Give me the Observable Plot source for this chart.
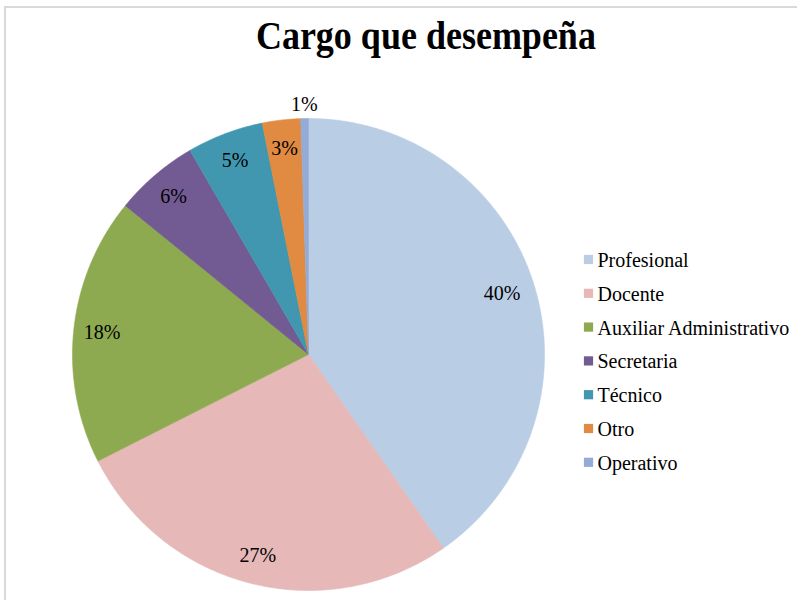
<!DOCTYPE html>
<html><head><meta charset="utf-8">
<script src="https://cdn.jsdelivr.net/npm/d3@7"></script>
<script src="https://cdn.jsdelivr.net/npm/@observablehq/plot@0.6"></script>
<style>
body{margin:0;background:#fff;}
#wrap{position:relative;width:797px;height:600px;overflow:hidden;}
#frame{position:absolute;left:4px;top:6px;width:840px;height:640px;border:2px solid #d9d9d9;}
#title{position:absolute;left:0;top:16px;width:852px;text-align:center;font:bold 40px "Liberation Serif",serif;line-height:40px;color:#000;}
#title span{display:inline-block;transform:scaleX(0.9);transform-origin:center;}
#chart{position:absolute;left:0;top:60px;}
#chart svg text{font-family:"Liberation Serif",serif !important;}
</style></head>
<body>
<div id="wrap">
  <div id="frame"></div>
  <div id="title"><span>Cargo que desempeña</span></div>
  <div id="chart"></div>
</div>
<script>
const categories = ["Profesional","Docente","Auxiliar Administrativo","Secretaria","Técnico","Otro","Operativo"];
const counts = [77, 52, 35, 11, 10, 5, 1];
const colors = ["#b9cde5","#e6b9b8","#8eaa50","#725a93","#4197b0","#e08a42","#94abd5"];

const cx = 308, cy = 354, R = 236;
const total = d3.sum(counts);
const pie = d3.pie().sort(null).value(d => d.count)(categories.map((c, i) => ({cat: c, count: counts[i]})));

const pt = (a, r) => [cx + r * Math.sin(a), cy - r * Math.cos(a)];
const poly = [];
for (const s of pie) {
  const c = s.data.cat;
  poly.push({cat: c, x: cx, y: cy});
  const n = Math.max(2, Math.ceil((s.endAngle - s.startAngle) / 0.005));
  for (let k = 0; k <= n; k++) {
    const a = s.startAngle + (s.endAngle - s.startAngle) * k / n;
    const [x, y] = pt(a, R);
    poly.push({cat: c, x, y});
  }
  poly.push({cat: c, x: cx, y: cy});
}
const labels = pie.map(s => {
  const frac = s.data.count / total;
  const mid = (s.startAngle + s.endAngle) / 2;
  const [x, y] = pt(mid, frac < 0.02 ? R * 1.06 : (frac > 0.35 ? R * 0.86 : R * 0.88));
  return {x, y, text: Math.round(frac * 100) + "%"};
});
const legend = categories.map((c, i) => ({cat: c, y: 259 + 33.8 * i}));

const serif = "'Liberation Serif', serif";
const chart = Plot.plot({
  width: 797, height: 540, margin: 0,
  style: {background: "none", overflow: "visible", fontFamily: serif},
  x: {domain: [0, 797], range: [0, 797], axis: null},
  y: {domain: [60, 600], range: [0, 540], axis: null},
  color: {domain: categories, range: colors},
  marks: [
    Plot.line(poly, {x: "x", y: "y", z: "cat", fill: "cat", stroke: "cat", strokeWidth: 0.6, curve: "linear"}),
    Plot.text(labels, {x: "x", y: "y", text: "text", fontSize: 20, fontFamily: serif, fill: "#000", textAnchor: "middle", lineAnchor: "middle"}),
    Plot.dot(legend, {x: 588, y: "y", symbol: "square", r: 5.2, fill: "cat", stroke: null}),
    Plot.text(legend, {x: 597, y: d => d.y + 1, text: "cat", fontSize: 20, fontFamily: serif, fill: "#000", textAnchor: "start", lineAnchor: "middle"})
  ]
});
document.getElementById("chart").appendChild(chart);
</script>
</body></html>
